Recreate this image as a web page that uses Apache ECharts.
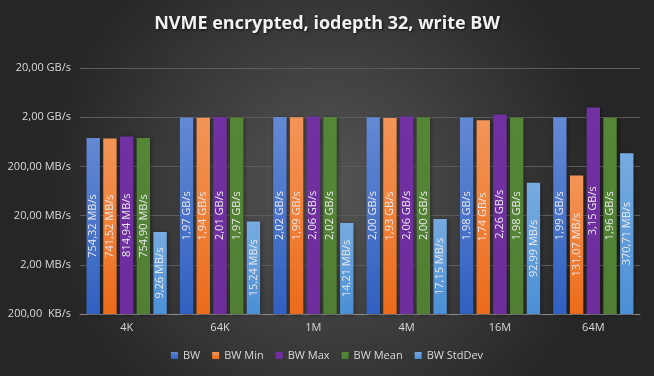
<!DOCTYPE html>
<html>
<head>
<meta charset="utf-8">
<script src="https://cdn.jsdelivr.net/npm/echarts@6/dist/echarts.min.js"></script>
<style>
  html, body { margin: 0; padding: 0; }
  #chart { width: 654px; height: 376px; }
</style>
</head>
<body>
<div id="chart"></div>
<script>
// values in MB/s
const categories = ["4K", "64K", "1M", "4M", "16M", "64M"];
const bw = [754.32, 1970, 2020, 2000, 1980, 1990];
const bwMin = [741.52, 1940, 1990, 1930, 1740, 131.07];
const bwMax = [814.94, 2010, 2060, 2060, 2260, 3150];
const bwMean = [754.9, 1970, 2020, 2000, 1980, 1960];
const bwStdDev = [9.26, 15.24, 14.21, 17.15, 92.99, 370.71];

// log axis: 200 KB/s (0.2 MB/s) up to 20 GB/s, one tick per decade
const AXIS_MIN = 0.2;
const DECADES = 5;

const fmt = (v) => {
  if (v >= 1000) return (v / 1000).toFixed(2).replace(".", ",") + " GB/s";
  if (v >= 1) return v.toFixed(2).replace(".", ",") + " MB/s";
  return (v * 1000).toFixed(2).replace(".", ",") + "  KB/s";
};
const toLog = (v) => Math.log10(v / AXIS_MIN);

const vgrad = (top, bottom) => new echarts.graphic.LinearGradient(0, 0, 0, 1, [
  { offset: 0, color: top },
  { offset: 1, color: bottom },
]);

const chart = echarts.init(document.getElementById("chart"));

const makeSeries = (name, values, top, bottom) => ({
  name: name,
  type: "bar",
  data: values.map(toLog),
  barGap: "25%",
  barCategoryGap: "14%",
  itemStyle: {
    color: vgrad(top, bottom),
    shadowColor: "rgba(0,0,0,0.45)",
    shadowBlur: 4,
    shadowOffsetX: 1,
    shadowOffsetY: 1,
  },
  label: {
    show: true,
    position: "inside",
    rotate: 90,
    color: "#e8e8e8",
    textBorderWidth: 0,
    fontSize: 11,
    fontFamily: "Open Sans",
    formatter: (p) => fmt(values[p.dataIndex]),
  },
});

const option = {
  backgroundColor: {
    type: "radial",
    x: 0.5,
    y: 0.5,
    r: 0.75,
    colorStops: [
      { offset: 0, color: "#555555" },
      { offset: 1, color: "#262626" },
    ],
  },
  title: {
    text: "NVME encrypted, iodepth 32, write BW",
    left: "center",
    top: 10,
    textStyle: {
      color: "#f2f2f2",
      fontSize: 18,
      fontWeight: "bold",
      fontFamily: "Open Sans",
      textShadowColor: "rgba(0,0,0,0.7)",
      textShadowBlur: 3,
      textShadowOffsetX: 1,
      textShadowOffsetY: 1,
    },
  },
  legend: {
    bottom: 10,
    icon: "rect",
    itemWidth: 7,
    itemHeight: 7,
    itemGap: 12,
    textStyle: { color: "#d9d9d9", fontSize: 11, fontFamily: "Open Sans" },
    data: ["BW", "BW Min", "BW Max", "BW Mean", "BW StdDev"],
  },
  grid: { left: 80, right: 14, top: 68, bottom: 62 },
  xAxis: {
    type: "category",
    data: categories,
    axisTick: { show: false },
    axisLine: { lineStyle: { color: "#8c8c8c", width: 1 } },
    axisLabel: { color: "#d9d9d9", fontSize: 11, fontFamily: "Open Sans", margin: 8 },
  },
  yAxis: {
    type: "value",
    min: 0,
    max: DECADES,
    interval: 1,
    axisLine: { show: false },
    axisTick: { show: false },
    splitLine: { lineStyle: { color: "#5c5c5c", width: 1 } },
    axisLabel: {
      color: "#d9d9d9",
      fontSize: 11,
      fontFamily: "Open Sans",
      margin: 9,
      formatter: (i) => fmt(AXIS_MIN * Math.pow(10, i)),
    },
  },
  series: [
    makeSeries("BW", bw, "#6489d4", "#3060c0"),
    makeSeries("BW Min", bwMin, "#f39558", "#ec6b1a"),
    makeSeries("BW Max", bwMax, "#7231a2", "#6d2d9d"),
    makeSeries("BW Mean", bwMean, "#558636", "#507f33"),
    makeSeries("BW StdDev", bwStdDev, "#77abe0", "#4a8fd5"),
  ],
};

chart.setOption(option);
</script>
</body>
</html>
